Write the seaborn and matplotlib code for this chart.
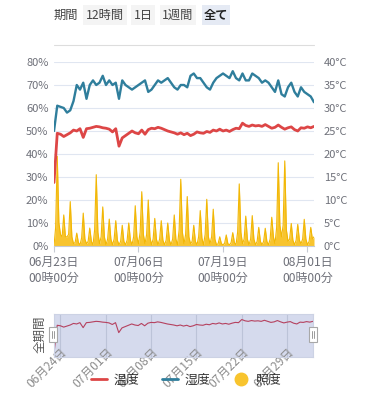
import pandas as pd
import matplotlib
matplotlib.use("Agg")
import matplotlib.pyplot as plt
from matplotlib.patches import Rectangle
from matplotlib.lines import Line2D
import seaborn as sns

sns.set_theme(style="white")
plt.rcParams['font.family'] = ['Noto Sans CJK JP', 'DejaVu Sans']

# ------------------------------------------------------------------
# data: humidity / temperature every 12h, illuminance every 6h
# from 06/23 00:00 to 08/02 00:00
# ------------------------------------------------------------------
times = pd.date_range("2023-06-23 00:00", periods=81, freq="12h")
times_illum = pd.date_range("2023-06-23 00:00", periods=161, freq="6h")

humidity = [50, 61, 60.5, 60, 58, 59, 63, 70, 68, 71,
            64, 70, 72, 70, 71, 74, 70, 72, 70, 71,
            64, 72, 70, 69, 68, 69, 70, 71, 72, 67,
            68, 70, 72, 71, 72, 73, 71, 69, 68, 70,
            70, 69, 74, 75, 73, 73, 71, 69, 68, 71,
            73, 74, 75, 74, 73, 76, 73, 72, 75, 72,
            72, 75, 74, 73, 71, 72, 71, 69, 67, 72,
            66, 65, 69, 71, 67, 65, 69, 67, 66, 65,
            62.5]

temperature = [13.8, 24.5, 24.3, 23.8, 24.2, 24.6, 25.2, 25.0, 25.5, 23.6,
               25.5, 25.6, 25.8, 26.0, 25.9, 25.7, 25.6, 25.4, 24.8, 25.5,
               21.7, 23.5, 24.0, 24.5, 25.0, 24.6, 24.4, 25.2, 24.3, 25.3,
               25.6, 25.5, 25.8, 25.6, 25.3, 25.0, 24.8, 24.6, 24.3, 24.6,
               24.2, 24.5, 24.0, 24.3, 24.8, 24.6, 24.5, 24.9, 24.7, 25.2,
               25.0, 25.4, 25.0, 25.2, 24.9, 25.3, 25.6, 25.5, 26.7, 26.2,
               26.0, 26.3, 26.1, 26.2, 26.0, 26.4, 26.0, 25.6, 25.8, 26.3,
               25.8, 25.4, 25.7, 25.9, 25.3, 25.0, 25.7, 25.6, 25.9, 25.7,
               26.0]

# 00h, 06h, 12h, 18h per day (drawn on the % scale)
illuminance = [0, 8, 39, 10,      5, 4, 13.5, 4,    4, 5, 19.3, 4,    1, 1.5, 5.6, 1.5,
               0.5, 3.5, 14.3, 3, 1, 2, 7.8, 2,     0.5, 7, 31, 6,    1, 4, 17, 4,
               0.5, 3, 11.7, 3,   0.5, 3, 11, 2.5,  0.5, 2, 9, 2,     0.5, 2.5, 10, 2.5,
               0.5, 4, 17.5, 4,   1, 6, 23.6, 5,    1, 5, 20, 4,      0.5, 3, 12, 3,
               0.5, 3, 11, 2.5,   0.5, 2.5, 10, 2.5, 0.5, 3, 13.5, 3, 0.5, 7, 29, 6,
               1, 5, 21.5, 4,     1, 2, 9, 2,       0.5, 4, 15.4, 3.5, 0.5, 5, 20.3, 4,
               1, 4, 16, 3,       0.5, 1, 4, 1,     0.5, 1.2, 4.8, 1, 0.5, 1.5, 5.8, 1.5,
               0.5, 6, 27, 6,     1, 3, 13, 3,      0.5, 3, 13.2, 3,  0.5, 2, 8.1, 2,
               0.5, 2, 7.7, 2,    0.5, 3, 12.5, 4,  1, 8, 36.2, 9,    4, 9, 37, 7,
               2, 3, 9.8, 2.5,    0.5, 2.5, 9.4, 2.5, 1, 3, 11.6, 3,  0.5, 2, 8.1, 3,
               4]

x_ticks = pd.to_datetime(["2023-06-23", "2023-07-06", "2023-07-19", "2023-08-01"])
x_tick_labels = ["06月23日\n00時00分", "07月06日\n00時00分",
                 "07月19日\n00時00分", "08月01日\n00時00分"]
slider_ticks = pd.to_datetime(["2023-06-24", "2023-07-01", "2023-07-08",
                               "2023-07-15", "2023-07-22", "2023-07-29"])
slider_labels = ["06月24日", "07月01日", "07月08日", "07月15日", "07月22日", "07月29日"]
left_ticks = list(range(0, 81, 10))
right_ticks = list(range(0, 41, 5))
buttons = ["12時間", "1日", "1週間", "全て"]

df = pd.DataFrame({"time": times, "humidity": humidity, "temperature": temperature})
df_illum = pd.DataFrame({"time": times_illum, "illuminance": illuminance})

RED = "#dd4646"
TEAL = "#2f7e9c"
YELLOW = "#f8c42e"
GREY = "#6e7079"

W, H = 372, 400
fig = plt.figure(figsize=(W / 100, H / 100), dpi=100)
fig.patch.set_facecolor("white")

# ------------------------------------------------------------------
# main chart
# ------------------------------------------------------------------
ax = fig.add_axes([54 / W, 1 - 246 / H, 260 / W, 184 / H])
ax.fill_between(df_illum["time"], df_illum["illuminance"], color=YELLOW, lw=0, zorder=2)
sns.lineplot(data=df_illum, x="time", y="illuminance", ax=ax, color="#f2b705", lw=0.8, zorder=3)
sns.lineplot(data=df, x="time", y="humidity", ax=ax, color=TEAL, lw=1.7, zorder=4)
ax.set_xlim(times[0], times[-1])
ax.set_ylim(0, 80)
ax.set_yticks(left_ticks)
ax.set_yticklabels([f"{v}%" for v in left_ticks])
ax.set_xticks(x_ticks)
ax.set_xticklabels(x_tick_labels, linespacing=1.35)
ax.yaxis.grid(True, color="#e0e6f1", lw=0.8)
ax.xaxis.grid(False)
ax.tick_params(axis="y", length=0, pad=4, labelsize=8, labelcolor=GREY)
ax.tick_params(axis="x", bottom=True, length=4, width=0.8, color="#c6cad3",
               pad=3, labelsize=8.6, labelcolor=GREY)
for s in ["top", "left", "right"]:
    ax.spines[s].set_visible(False)
ax.spines["bottom"].set_color("#c6cad3")
ax.spines["bottom"].set_linewidth(0.8)
ax.set_xlabel("")
ax.set_ylabel("")

ax2 = ax.twinx()
sns.lineplot(data=df, x="time", y="temperature", ax=ax2, color=RED, lw=2.0)
ax2.set_ylim(0, 40)
ax2.set_yticks(right_ticks)
ax2.set_yticklabels([f"{v}°C" for v in right_ticks])
ax2.tick_params(axis="y", length=0, pad=7, labelsize=8, labelcolor=GREY)
for s in ax2.spines.values():
    s.set_visible(False)
ax2.grid(False)
ax2.set_ylabel("")

# ------------------------------------------------------------------
# slider (data zoom)
# ------------------------------------------------------------------
sax = fig.add_axes([54 / W, 1 - 357 / H, 259 / W, 43 / H])
sax.set_facecolor("#d5daed")
sns.lineplot(data=df, x="time", y="temperature", ax=sax, color="#b5415f", lw=0.8)
sax.set_xlim(times[0], times[-1])
sax.set_ylim(12.4, 28.8)
sax.set_yticks([])
sax.set_xticks(slider_ticks)
sax.set_xticklabels(slider_labels)
sax.xaxis.grid(True, color="#bcc3d8", lw=0.8)
sax.tick_params(axis="x", length=0, pad=-8, labelsize=8.6, labelcolor="#8c8c8c")
for lab in sax.get_xticklabels():
    lab.set_rotation(45)
    lab.set_ha("right")
    lab.set_va("top")
    lab.set_rotation_mode("anchor")
for s in sax.spines.values():
    s.set_color("#ccd2e4")
    s.set_linewidth(0.8)
sax.set_xlabel("")
sax.set_ylabel("")

# ------------------------------------------------------------------
# overlay in pixel coords: buttons, separator, handles, legend
# ------------------------------------------------------------------
ov = fig.add_axes([0, 0, 1, 1], zorder=5)
ov.set_xlim(0, W)
ov.set_ylim(H, 0)
ov.axis("off")
ov.patch.set_alpha(0)

ov.text(54, 15, "期間", fontsize=8.8, color="#444444", ha="left", va="center")
box_x = [(83, 127), (131, 155), (160, 196), (202, 230)]
for (x0, x1), name in zip(box_x, buttons):
    active = name == "全て"
    ov.add_patch(Rectangle((x0, 5), x1 - x0, 20,
                           facecolor="#e5eaf4" if active else "#f4f4f4", lw=0))
    ov.text((x0 + x1) / 2, 15, name, fontsize=8.8, color="#222222" if active else "#444444",
            fontweight="bold" if active else "normal", ha="center", va="center")
ov.plot([54, 314], [45, 45], color="#dddddd", lw=0.8)

ov.text(40, 334, "全期間", fontsize=9, color="#555555", rotation=90,
        ha="center", va="center")
for hx in (53, 313):
    ov.add_patch(Rectangle((hx - 4, 327), 8, 15, facecolor="white",
                           edgecolor="#a8a8a8", lw=0.8, zorder=6))
    ov.plot([hx - 1.2, hx - 1.2], [331, 338], color="#999999", lw=0.7, zorder=7)
    ov.plot([hx + 1.2, hx + 1.2], [331, 338], color="#999999", lw=0.7, zorder=7)

handles = [Line2D([], [], color=RED, lw=2),
           Line2D([], [], color=TEAL, lw=2),
           Line2D([], [], color=YELLOW, marker="o", markersize=9, lw=0)]
fig.legend(handles, ["温度", "湿度", "照度"], loc="center",
           bbox_to_anchor=(186 / W, 1 - 380 / H), ncol=3, frameon=False,
           fontsize=9.3, handlelength=1.2, handletextpad=0.5, columnspacing=1.8,
           labelcolor="#333333")

fig.savefig("out.png", dpi=100)
